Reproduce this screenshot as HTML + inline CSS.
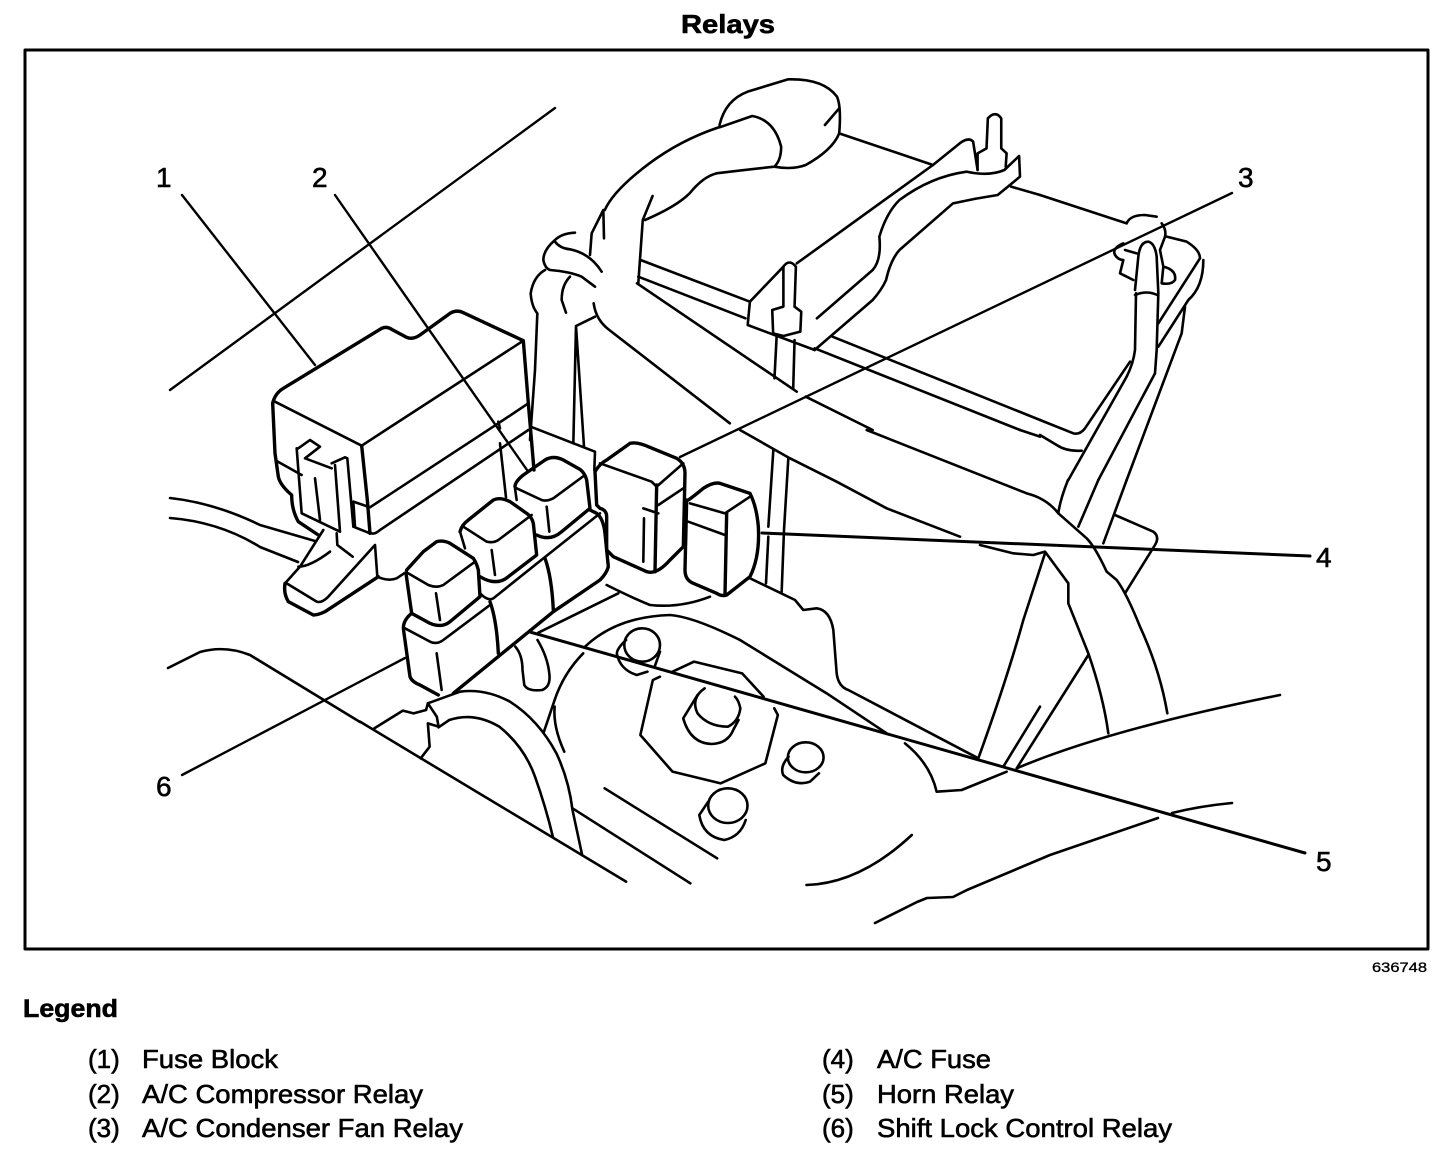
<!DOCTYPE html>
<html><head><meta charset="utf-8"><title>Relays</title>
<style>
html,body{margin:0;padding:0;background:#fff}
svg{display:block}
path,ellipse,rect,line{fill:none;stroke:#000;stroke-width:2.6;stroke-linecap:round;stroke-linejoin:round;vector-effect:non-scaling-stroke}
.t path{stroke-width:3.4}
.l{stroke-width:2.4}
text{font-family:"Liberation Sans",sans-serif;fill:#000;stroke:#000;stroke-width:.6}
.b{font-weight:bold}
</style></head><body>
<svg width="1456" height="1158" viewBox="0 0 1456 1158" xmlns="http://www.w3.org/2000/svg">
<rect x="0" y="0" width="1456" height="1158" style="fill:#fff;stroke:none"/>
<text class="b" x="681" y="33" font-size="26" textLength="94" lengthAdjust="spacingAndGlyphs">Relays</text>
<rect x="25" y="50" width="1403" height="899" style="stroke-width:3"/>

<!-- free lines & leaders -->
<g>
<path class="l" d="M555 108L170 390"/>
<path class="l" d="M182 195L315 365"/>
<path class="l" d="M335 195L527 470"/>
<path class="l" d="M1232 193L680 457"/>
<path style="stroke-width:3" d="M762 533L1310 556"/>
<path style="stroke-width:3" d="M530 632L1305 853"/>
<path class="l" d="M182 775L405 658"/>
<path d="M168 668L200 652Q225 645 250 655L360 722"/>
<path d="M170 498Q215 503 260 525L315 541"/>
<path d="M170 518Q220 522 260 547L298 562"/>
<path d="M875 923L917 902L927 898L953 897L967 890L1050 855L1158 818"/>
<path d="M1172 813Q1200 806 1232 803"/>
</g>

<!-- fuse block & relays -->
<g transform="translate(260,300) scale(.33333)">
<g class="t">
<path d="M38 310Q45 280 70 265L365 85Q380 78 395 88L440 112Q458 120 480 105L570 40Q590 28 610 38L790 122L805 310L822 510"/>
<path d="M38 310L45 460L55 530Q60 555 95 585Q95 630 115 665L175 705"/>
<path d="M305 437L322 600L330 700"/>
<path d="M75 850Q70 880 85 905L160 945Q175 945 195 935L355 830"/>
<path d="M765 560Q765 545 790 525L855 480Q880 465 910 480L960 508Q975 520 980 540L990 625L905 695Q870 725 830 705"/>
<path d="M990 630L1010 640Q1030 655 1035 700L1045 800Q1040 820 1020 840L880 935L580 1180"/>
<path d="M600 695Q605 675 625 660L700 600Q720 590 750 605L800 640Q815 650 820 670L830 765L745 830Q710 860 660 830"/>
<path d="M440 810L490 755L530 725Q550 720 570 730L640 775Q650 790 655 810L660 890L570 965Q545 985 510 970L455 940"/>
<path d="M438 820L455 940Q430 960 430 985L450 1130Q455 1145 480 1155L535 1185"/>
<path d="M855 775Q875 830 880 930"/>
<path d="M690 905Q710 960 715 1060"/>
<path d="M1005 515Q1020 490 1040 480L1110 430Q1130 425 1165 440L1250 475Q1275 490 1275 520L1270 740L1230 780Q1190 825 1160 815L1060 770L1040 750L1040 650Q1040 630 1020 625L1010 615Z"/>
<path d="M1285 600Q1300 590 1330 565Q1360 545 1380 550L1470 580Q1490 620 1495 680Q1500 770 1470 830L1400 885Q1385 890 1370 880L1300 850Q1275 840 1275 810L1280 600"/>
<path d="M1190 555L1185 815"/>
<path d="M1400 640L1395 885"/>
</g>
<path d="M45 305L305 437L790 122"/>
<path d="M50 483L125 525M280 605L330 622L715 370L805 310"/>
<path d="M335 700Q345 703 360 690L805 390"/>
<path d="M280 680L330 700M280 605L285 680"/>
<path d="M720 430L738 592M715 365L720 385"/>
<path d="M812 380L1005 455L1003 510"/>
<path d="M1005 50L948 78L940 430M948 78L972 440"/>
<path d="M115 445L150 420L180 440L135 475L215 505M110 445L125 640L240 695M215 490L255 472L262 475L280 680M225 495L240 695M165 535L180 660"/>
<path d="M190 690L120 800L75 850M80 850L170 905Q185 910 205 890L345 735L352 830Q385 845 410 835L440 815M115 800Q150 800 210 755M230 700L232 735L278 770"/>
<path d="M770 565L845 600Q860 605 880 595L975 525M765 565L770 600M860 620L868 695"/>
<path d="M1020 640L850 775L700 895Q685 905 660 880"/>
<path d="M610 680L680 725Q700 730 715 720L815 645M695 750L705 825M600 695L615 745"/>
<path d="M445 820L505 855Q530 865 550 855L645 785M528 880L540 960"/>
<path d="M435 985L510 1025Q530 1035 550 1020L690 915M530 1060L545 1170"/>
<path d="M1020 490L1175 545L1190 560L1270 490M1195 615L1270 565M1150 625L1195 640M1152 655L1150 785"/>
<path d="M1290 610L1395 640L1470 590M1285 665L1395 705"/>
<path d="M1040 855Q1120 895 1170 915Q1260 925 1350 890M1075 880L835 998"/>
<path d="M975 1040Q1070 950 1230 945Q1300 950 1440 1020"/>
</g>

<!-- hose wrap -->
<g transform="translate(520,210) scale(.33333)">
<path d="M165 68Q125 70 105 90Q70 120 70 150Q75 175 90 180Q150 185 185 200L225 230"/>
<path d="M75 180Q40 200 32 250Q35 290 52 310L45 480L30 690"/>
<path d="M105 95Q120 115 150 118Q210 130 245 185"/>
<path d="M250 0L215 70L210 135M250 0L252 85"/>
<path d="M150 200Q125 225 125 270L138 308"/>
</g>

<!-- hose and battery -->
<g transform="translate(520,70) scale(.44643,.33333)">
<path d="M447 165Q460 90 510 65L600 28Q680 25 710 80Q720 110 715 190Q700 240 640 285Q610 300 570 290"/>
<path d="M683 165L715 115"/>
<path d="M447 172L520 138Q570 150 585 230Q585 270 570 290Q500 300 440 310Q410 320 380 370Q350 410 280 450"/>
<path d="M297 378L275 450L265 640"/>
<path d="M445 172Q360 210 290 280Q210 360 190 420"/>
<path d="M165 700Q170 750 200 780L470 1060"/>
<path d="M715 190L925 285M1100 350L1165 375"/>
<path d="M270 570L515 695M265 620L505 745M262 640L620 965M640 980L790 1080"/>
<path d="M515 695L510 765L660 840M515 695L590 590"/>
<path d="M567 790L565 720L590 710L590 590Q603 565 618 590L615 710L630 725L628 785L590 798Z"/>
<path d="M620 580L925 285L985 220Q1005 200 1015 215L1025 300"/>
<path d="M1025 300L1025 250L1045 235L1048 145Q1065 120 1078 145L1078 235L1090 250L1088 290"/>
<path d="M665 745L790 600Q810 570 805 500Q820 430 850 390Q920 320 1000 305Q1050 320 1085 300L1118 258L1120 320L1070 375Q1020 385 970 400L850 540Q830 570 820 630Q810 660 790 690L660 840"/>
<path d="M700 800L1165 1050"/>
<path d="M660 835L1120 1080"/>
<path d="M575 795L570 925M615 810L612 955"/>
</g>

<!-- battery corner -->
<g transform="translate(1040,180) scale(.33333)">
<path d="M0 45L260 130"/>
<path d="M260 130Q270 105 315 105L350 110M365 130Q380 150 375 170L360 210L370 260Q410 270 405 300Q395 315 365 310L370 260"/>
<path d="M250 190Q215 205 225 225Q235 240 250 240L240 280L280 300M255 210L290 220"/>
<path d="M285 330L295 230Q300 185 325 185Q345 190 350 230L355 340L350 510L345 580L175 900"/>
<path d="M285 345Q320 330 352 345M288 340L285 510Q280 550 260 590L85 900"/>
<path d="M0 720L100 760Q120 765 135 745L270 545"/>
<path d="M0 765L50 795Q80 815 125 812"/>
<path d="M355 430L480 235Q480 210 440 185L380 170"/>
<path d="M355 500L445 360Q490 320 490 240"/>
<path d="M435 380L425 460L260 900"/>
</g>

<!-- lower right -->
<g transform="translate(740,430) scale(.33333)">
<path d="M0 0L150 85L290 155L440 235L660 320"/>
<path d="M380 0L860 190Q920 205 955 250L1040 325Q1065 350 1100 425L1130 450Q1160 490 1200 590Q1260 720 1282 850"/>
<path d="M840 0L900 20"/>
<path d="M984 150Q960 210 955 250M1075 150L1015 290M1160 150L1090 340"/>
<path d="M1125 255L1240 305Q1260 320 1245 345L1155 490"/>
<path d="M100 60L85 290M85 320L78 460M145 85L132 300L125 485"/>
<path d="M720 345L820 370L880 375L915 365L985 460L985 520L1045 670Q1090 800 1105 910"/>
<path d="M915 370L850 570Q800 750 715 985L325 780Q295 770 290 730L280 600Q270 540 230 535L190 540L165 510L30 445"/>
<path d="M1045 675L830 1015M900 830L790 1010M830 1015Q1100 900 1620 795"/>
<path d="M0 630L260 790L440 910"/>
<path d="M495 940Q570 1000 590 1085L665 1080L800 1025"/>
</g>

<!-- lower centre -->
<g transform="translate(360,620) scale(.35714,.33333)">
<ellipse cx="790" cy="75" rx="50" ry="50"/>
<path d="M745 60Q715 90 720 105Q730 150 775 165L805 155M840 95L825 140"/>
<path d="M875 155L935 125L1070 160L1130 230M1160 265L1170 285L1135 430L1010 490L875 455L785 345L820 180L840 170"/>
<path d="M965 205Q925 235 945 280Q975 320 1030 320Q1060 305 1065 265Q1060 240 1050 230"/>
<path d="M945 225L905 295Q925 370 985 372Q1030 370 1045 330L1060 300"/>
<ellipse cx="1248" cy="412" rx="50" ry="45"/>
<path d="M1200 410Q1175 440 1185 465Q1220 500 1260 485L1285 460"/>
<ellipse cx="1030" cy="557" rx="55" ry="52"/>
<path d="M975 545L950 585Q960 650 1020 660Q1065 650 1080 600"/>
<path d="M515 335L545 240Q570 160 625 100M545 260Q540 320 572 395"/>
<path d="M435 80Q455 105 455 150L460 195Q470 215 510 210Q535 200 530 160Q525 110 497 60"/>
<path d="M190 250L280 215Q350 205 420 245Q500 300 550 400Q585 480 595 570L622 705"/>
<path d="M220 322L250 300Q320 275 390 320Q460 380 490 470Q520 560 540 650"/>
<path d="M190 250L185 270L150 280L120 272L40 325M190 250L215 290L220 320L190 310L195 380L170 415"/>
<path d="M0 305L745 785M595 565L925 790M685 505L1000 715"/>
<path d="M1250 795Q1400 790 1545 645"/>
</g>

<text x="156" y="187" font-size="28">1</text>
<text x="312" y="187" font-size="28">2</text>
<text x="1238" y="187" font-size="28">3</text>
<text x="1316" y="567" font-size="28">4</text>
<text x="1316" y="871" font-size="28">5</text>
<text x="156" y="796" font-size="28">6</text>

<text x="1372" y="972" font-size="14" textLength="55" lengthAdjust="spacingAndGlyphs" style="stroke-width:.3">636748</text>
<text class="b" x="23" y="1017" font-size="25" textLength="95" lengthAdjust="spacingAndGlyphs">Legend</text>

<g font-size="26">
<text x="88" y="1068">(1)</text><text x="142" y="1068" textLength="136" lengthAdjust="spacingAndGlyphs">Fuse Block</text>
<text x="88" y="1103">(2)</text><text x="142" y="1103" textLength="281" lengthAdjust="spacingAndGlyphs">A/C Compressor Relay</text>
<text x="88" y="1137">(3)</text><text x="142" y="1137" textLength="321" lengthAdjust="spacingAndGlyphs">A/C Condenser Fan Relay</text>
<text x="822" y="1068">(4)</text><text x="877" y="1068" textLength="114" lengthAdjust="spacingAndGlyphs">A/C Fuse</text>
<text x="822" y="1103">(5)</text><text x="877" y="1103" textLength="137" lengthAdjust="spacingAndGlyphs">Horn Relay</text>
<text x="822" y="1137">(6)</text><text x="877" y="1137" textLength="295" lengthAdjust="spacingAndGlyphs">Shift Lock Control Relay</text>
</g>
</svg>
</body></html>
